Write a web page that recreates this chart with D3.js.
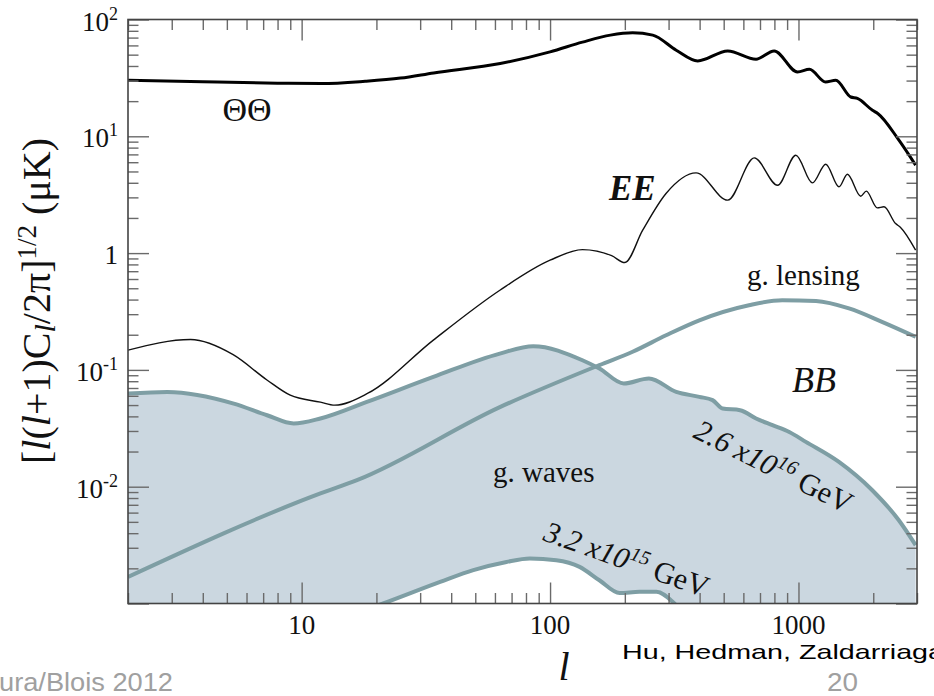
<!DOCTYPE html>
<html><head><meta charset="utf-8">
<script src="https://cdn.jsdelivr.net/npm/d3@7"></script>
<style>body{margin:0;background:#fff}svg{display:block}</style>
</head><body>
<svg id="chart" width="934" height="696"></svg>
<script>
// ---- data ----
const ttL = [2, 4, 8, 12, 18, 25, 34, 63, 100, 135, 175, 215, 259, 322, 393, 519, 675, 798, 991, 1107, 1285, 1413, 1623, 1727, 1986, 2085, 2537, 2962];
const ttV = [30.2, 29.3, 28.5, 28.3, 29.6, 31.5, 34.9, 42, 52.8, 64, 73.5, 77, 73.5, 54.6, 44.2, 53.8, 45.7, 53.8, 35.6, 37.5, 29.2, 30.2, 21.7, 21.1, 16.7, 15.7, 9.26, 5.66];

const eeL = [2, 3.57, 5.3, 7.25, 9.0, 11.9, 13.6, 18.4, 33.8, 62.8, 100, 135, 177, 200, 236, 293, 387, 519, 664, 824, 976, 1138, 1288, 1456, 1574, 1781, 1875, 2076, 2208, 2460, 2576, 2962];
const eeV = [0.1475, 0.182, 0.135, 0.082, 0.0607, 0.053, 0.0499, 0.0628, 0.179, 0.481, 0.869, 1.07, 0.95, 0.83, 1.57, 3.24, 4.86, 2.84, 6.53, 3.81, 6.89, 3.99, 5.77, 3.69, 4.73, 3.07, 3.39, 2.44, 2.49, 1.79, 1.66, 1.06];

const lensL = [2, 11.9, 16.7, 62.8, 158, 215, 293, 399, 632, 860, 1177, 1597, 2168, 2962];
const lensV = [0.00169, 0.00875, 0.01137, 0.048, 0.110, 0.143, 0.198, 0.266, 0.358, 0.395, 0.389, 0.336, 0.258, 0.192];

const gwL = [2, 2.88, 5.33, 7.26, 9.29, 11.9, 18.3, 33.9, 62.8, 85.6, 135, 158, 198, 250, 322, 399, 451, 495, 582, 675, 786, 918, 1071, 1455, 1982, 2535, 2962];
const gwV = [0.0628, 0.0648, 0.0515, 0.0409, 0.0348, 0.0384, 0.0532, 0.0871, 0.138, 0.1595, 0.121, 0.1028, 0.0765, 0.0844, 0.0648, 0.0588, 0.0551, 0.0467, 0.0452, 0.0384, 0.0336, 0.0294, 0.0242, 0.0163, 0.00933, 0.00516, 0.00316];

const gwsL = [17.2, 21.3, 36.1, 49.1, 66.8, 82.9, 106, 131.5, 158, 190.5, 229, 268, 312, 364];
const gwsV = [0.00085, 0.001, 0.00153, 0.00193, 0.00227, 0.00243, 0.00235, 0.00206, 0.00158, 0.00123, 0.00126, 0.00126, 0.00103, 0.0007];

const xTickLabels = [10, 100, 1000];
const yTickVals = [1e2, 1e1, 1, 1e-1, 1e-2];
const yTickBase = ["10", "10", "1", "10", "10"];
const yTickExp = ["2", "1", "", "-1", "-2"];

// ---- setup ----
const svg = d3.select("#chart");
const L = 128, R = 917, T = 19.5, B = 603.5;
const x = d3.scaleLog().domain([2, 3000]).range([L, R]);
const y = d3.scaleLog().domain([1e-3, 1e2]).range([B, T]);
const serif = "'Liberation Serif','Times New Roman',serif";
const sans = "'Liberation Sans',Arial,sans-serif";
const fillC = "#cbd7e0", strokeC = "#7e9ea4";

svg.append("defs").append("clipPath").attr("id", "clip")
  .append("rect").attr("x", L).attr("y", T).attr("width", R - L).attr("height", B - T);

const zip = (a, b) => a.map((v, i) => [v, b[i]]);
const line = d3.line().x(d => x(d[0])).y(d => y(d[1])).curve(d3.curveMonotoneX);
const area = d3.area().x(d => x(d[0])).y0(B + 5).y1(d => y(d[1])).curve(d3.curveMonotoneX);

const plot = svg.append("g").attr("clip-path", "url(#clip)");
plot.append("path").attr("d", area(zip(gwL, gwV))).attr("fill", fillC);
plot.append("path").attr("d", area(zip(gwsL, gwsV))).attr("fill", "#fff");
plot.append("path").attr("d", line(zip(gwL, gwV))).attr("fill", "none").attr("stroke", strokeC).attr("stroke-width", 4);
plot.append("path").attr("d", line(zip(gwsL, gwsV))).attr("fill", "none").attr("stroke", strokeC).attr("stroke-width", 4);
plot.append("path").attr("d", line(zip(lensL, lensV))).attr("fill", "none").attr("stroke", strokeC).attr("stroke-width", 4);
plot.append("path").attr("d", line(zip(eeL, eeV))).attr("fill", "none").attr("stroke", "#111").attr("stroke-width", 1.4);
plot.append("path").attr("d", line(zip(ttL, ttV))).attr("fill", "none").attr("stroke", "#000").attr("stroke-width", 3);

// ---- ticks ----
const isMajor = v => Math.abs(Math.log10(v) - Math.round(Math.log10(v))) < 1e-9;
const xt = x.ticks(), yt = y.ticks();
const xMaj = xt.filter(isMajor), xMin = xt.filter(v => !isMajor(v));
const yMaj = yt.filter(isMajor), yMin = yt.filter(v => !isMajor(v));
function addAxis(gen, vals, size, tx, ty) {
  const g = svg.append("g").attr("transform", `translate(${tx},${ty})`)
    .call(gen.tickValues(vals).tickSize(-size).tickFormat(""));
  g.select(".domain").remove();
  g.selectAll(".tick line").attr("stroke", "#6a6a6a").attr("stroke-width", 1.4);
}
addAxis(d3.axisBottom(x), xMin, 10.5, 0, B);
addAxis(d3.axisBottom(x), xMaj, 21, 0, B);
addAxis(d3.axisTop(x), xMin, 10.5, 0, T);
addAxis(d3.axisTop(x), xMaj, 21, 0, T);
addAxis(d3.axisLeft(y), yMin, 10.5, L, 0);
addAxis(d3.axisLeft(y), yMaj, 21, L, 0);
addAxis(d3.axisRight(y), yMin, 10.5, R, 0);
addAxis(d3.axisRight(y), yMaj, 21, R, 0);

svg.append("rect").attr("x", L).attr("y", T).attr("width", R - L).attr("height", B - T)
  .attr("fill", "none").attr("stroke", "#444").attr("stroke-width", 1.6);

// tick labels
svg.append("g").selectAll("text").data(xTickLabels).join("text")
  .attr("x", d => x(d)).attr("y", 634).attr("text-anchor", "middle")
  .attr("font-family", serif).attr("font-size", 27).attr("fill", "#111").text(d => d);

const yl = svg.append("g").selectAll("text").data(yTickVals).join("text")
  .attr("x", 118).attr("y", d => y(d) + 11).attr("text-anchor", "end")
  .attr("font-family", serif).attr("font-size", 27).attr("fill", "#111");
yl.append("tspan").text((d, i) => yTickBase[i]);
yl.append("tspan").attr("font-size", 18).attr("dy", -11).text((d, i) => yTickExp[i]);

// axis titles
const yt2 = svg.append("text").attr("transform", "translate(50,301) rotate(-90)")
  .attr("text-anchor", "middle").attr("font-family", serif).attr("font-size", 40).attr("fill", "#111");
yt2.append("tspan").text("[");
yt2.append("tspan").attr("font-style", "italic").text("l");
yt2.append("tspan").text("(");
yt2.append("tspan").attr("font-style", "italic").text("l");
yt2.append("tspan").text("+1)C");
yt2.append("tspan").attr("font-style", "italic").attr("font-size", 30).attr("dy", 5).text("l");
yt2.append("tspan").attr("dy", -5).text("/2π]");
yt2.append("tspan").attr("font-size", 27).attr("dy", -14).text("1/2");
yt2.append("tspan").attr("dy", 14).text(" (μK)");

svg.append("text").attr("x", 564).attr("y", 680).attr("text-anchor", "middle")
  .attr("font-family", serif).attr("font-style", "italic").attr("font-size", 40).attr("fill", "#111").text("l");

// annotations
function ann(t, xx, yy, size, style, weight, anchor) {
  return svg.append("text").attr("x", xx).attr("y", yy).attr("font-family", serif)
    .attr("font-size", size).attr("font-style", style || "normal").attr("font-weight", weight || "normal")
    .attr("text-anchor", anchor || "start").attr("fill", "#111").text(t);
}
ann("ΘΘ", 247, 121, 34, "normal", "normal", "middle");
ann("EE", 609, 200, 35, "italic", "bold");
ann("g. lensing", 747, 285, 29);
ann("BB", 792, 392, 36, "italic");
ann("g. waves", 493, 482, 29);

function gev(tx, ty, ang, mant, exp) {
  const t = svg.append("text").attr("transform", `translate(${tx},${ty}) rotate(${ang})`)
    .attr("font-family", serif).attr("font-size", 30).attr("fill", "#111");
  t.append("tspan").attr("font-style", "italic").text(mant + " x10");
  t.append("tspan").attr("font-style", "italic").attr("font-size", 20).attr("dy", -11).text(exp);
  t.append("tspan").attr("dy", 11).text(" GeV");
}
gev(692, 437, 26.5, "2.6", "16");
gev(542, 540, 19.5, "3.2", "15");

// slide footer texts
svg.append("text").attr("x", -1).attr("y", 691).attr("font-family", sans).attr("font-size", 25)
  .attr("textLength", 174).attr("lengthAdjust", "spacingAndGlyphs")
  .attr("fill", "#a0a0a0").text("ura/Blois 2012");
svg.append("text").attr("x", 622).attr("y", 659).attr("font-family", sans).attr("font-size", 21)
  .attr("textLength", 322).attr("lengthAdjust", "spacingAndGlyphs")
  .attr("fill", "#000").text("Hu, Hedman, Zaldarriaga");
svg.append("text").attr("x", 827).attr("y", 691).attr("font-family", sans).attr("font-size", 25)
  .attr("textLength", 31).attr("lengthAdjust", "spacingAndGlyphs")
  .attr("fill", "#a0a0a0").text("20");
</script>
</body></html>
